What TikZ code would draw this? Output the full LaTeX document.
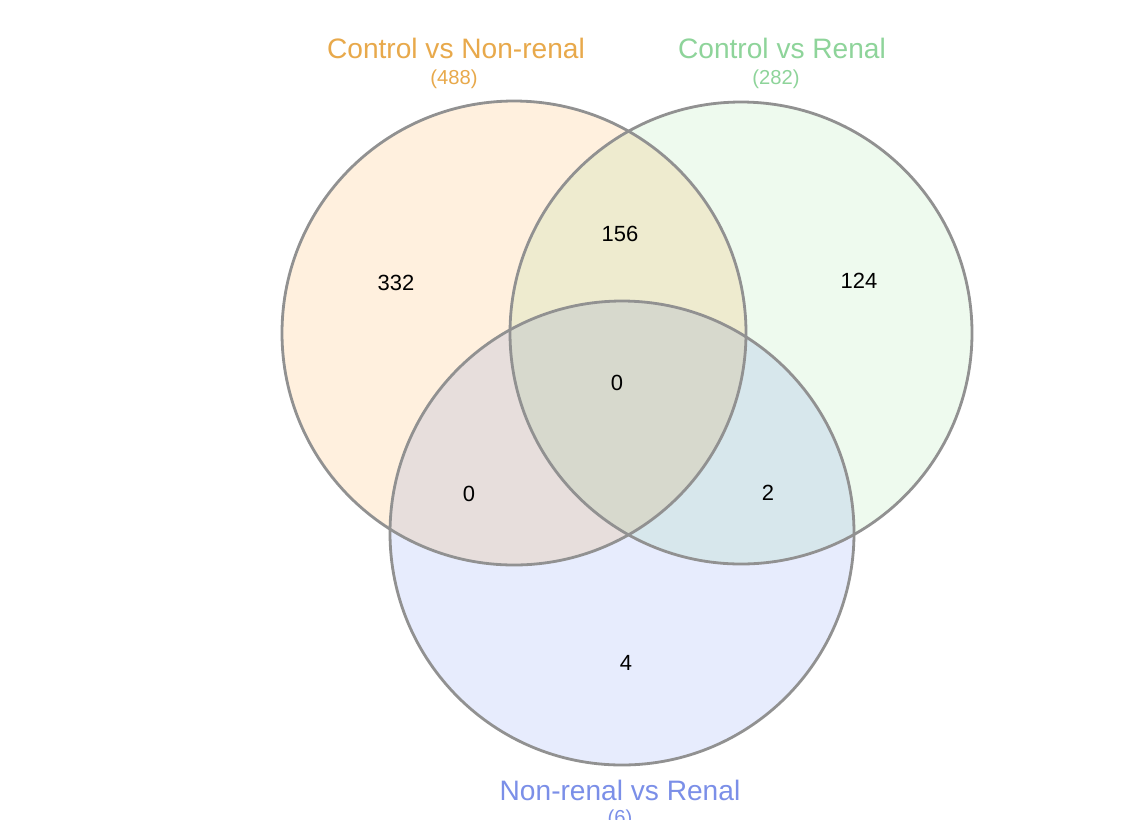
\documentclass[tikz,border=0pt]{standalone}
\usepackage{fontspec}
\setmainfont{Liberation Sans}
\usepackage{xcolor}
\usetikzlibrary{positioning}

\definecolor{nonrenalfill}{RGB}{255,240,222}
\definecolor{renalfill}{RGB}{238,250,238}
\definecolor{nrrfill}{RGB}{231,236,253}
\definecolor{nonrenaltext}{RGB}{232,169,75}
\definecolor{renaltext}{RGB}{142,212,154}
\definecolor{nrrtext}{RGB}{123,143,232}
\definecolor{ringgray}{RGB}{145,145,145}

\begin{document}
\begin{tikzpicture}[x=0.02cm, y=-0.02cm,
		ring/.style={draw=ringgray, line width=1.6pt},
		setname/.style={font=\fontsize{16}{18}\selectfont, inner sep=0pt},
		setsize/.style={font=\fontsize{11.5}{13}\selectfont, inner sep=0pt},
		count/.style={font=\fontsize{12.5}{14}\selectfont, inner sep=0pt}]
		\useasboundingbox (0,0) rectangle (1145,819);
		\fill[white] (0,0) rectangle (1145,819);
		% the three sets
		\coordinate (cA) at (514,333);
		\coordinate (cB) at (741,333);
		\coordinate (cC) at (622,533);
		\begin{scope}[blend mode=multiply]
			\fill[nonrenalfill] (cA) circle[radius=232];
			\fill[renalfill] (cB) circle[radius=231];
			\fill[nrrfill] (cC) circle[radius=232];
		\end{scope}
		\draw[ring] (cA) circle[radius=232];
		\draw[ring] (cB) circle[radius=231];
		\draw[ring] (cC) circle[radius=232];
		
		% set names
		\node[setname, text=nonrenaltext] (nameA) at (456,48) {Control vs Non-renal};
		\node[setsize, text=nonrenaltext] (sizeA) at (454,79) {(488)};
		\node[setname, text=renaltext] (nameB) at (782,48) {Control vs Renal};
		\node[setsize, text=renaltext] (sizeB) at (776,79) {(282)};
		\node[setname, text=nrrtext] (nameC) at (620,790) {Non-renal vs Renal};
		\node[setsize, text=nrrtext, below=14pt of nameC.base, anchor=base] (sizeC) {(6)};
		
		% region counts
		\node[count] (onlyA) at (396,283) {332};
		\node[count] (AB) at (620,234) {156};
		\node[count] (onlyB) at (859,281) {124};
		\node[count] (ABC) at (617,383) {0};
		\node[count] (AC) at (469,494) {0};
		\node[count] (BC) at (768,493) {2};
		\node[count] (onlyC) at (626,663) {4};
	\end{tikzpicture}
\end{document}
